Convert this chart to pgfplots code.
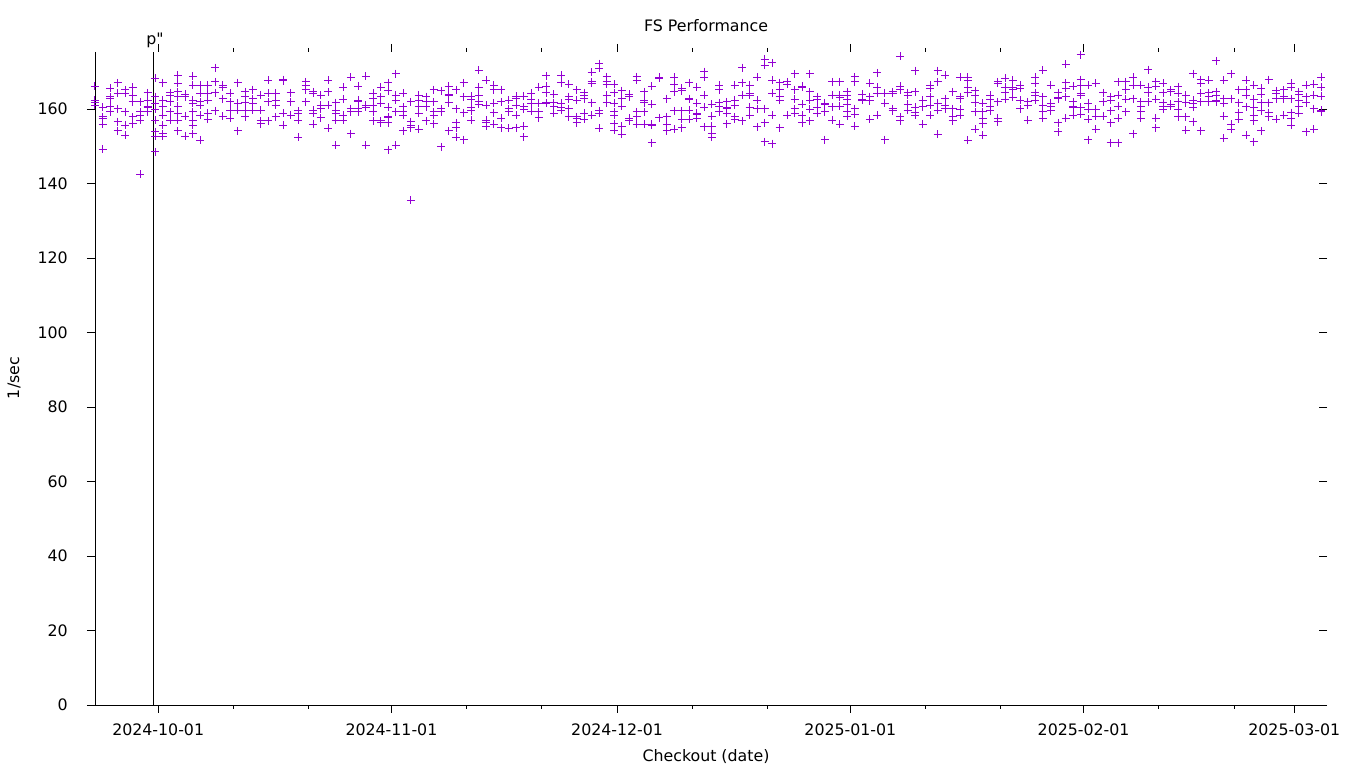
\documentclass[border=0pt]{standalone}
\usepackage{pgfplots}
\pgfplotsset{compat=1.18}
\usepackage{fontspec}
\setmainfont{DejaVu Sans}
\newfontfamily\rawfont{DejaVu Sans}
\definecolor{gpviolet}{HTML}{9400D3}
\begin{document}
\begin{tikzpicture}
\useasboundingbox (-95pt,-63pt) rectangle (1265pt,705pt);
\begin{axis}[
  scale only axis, width=1232pt, height=653pt,
  at={(0pt,0pt)}, anchor=south west,
  xmin=0, xmax=163.75, ymin=0, ymax=175.3,
  axis line style={draw=none},
  tick align=outside,
  major tick length=8pt, minor tick length=4pt,
  every tick/.style={black, line width=0.9pt},
  xtick pos=both, ytick pos=left,
  xtick={8.4,39.4,69.4,100.4,131.4,159.4},
  xticklabels={2024-10-01,2024-11-01,2024-12-01,2025-01-01,2025-02-01,2025-03-01},
  minor xtick={18.4,28.4,49.4,59.4,79.4,89.4,110.4,120.4,141.4,151.4},
  ytick={0,20,40,60,80,100,120,140,160},
  /pgf/number format/assume math mode=true,
  tick label style={font=\fontsize{15.8}{19}\selectfont},
  xticklabel style={anchor=base, yshift=-22pt},
  yticklabel style={anchor=east, inner sep=0pt, xshift=-19pt},
  clip=false,
]
\addplot[only marks, mark=+, mark size=4pt, gpviolet, mark options={line width=1pt}] coordinates {
(0,166.1) (0,162.4) (0,161.7) (0,161.0)
(1,160.4) (1,157.9) (1,157.5) (1,155.9) (1,149.2)
(2,165.5) (2,163.3) (2,162.8) (2,160.8) (2,159.2)
(3,167.0) (3,164.2) (3,160.1) (3,156.6) (3,154.1)
(4,165.1) (4,164.2) (4,159.2) (4,155.7) (4,153.0)
(5,165.8) (5,163.7) (5,161.9) (5,157.9) (5,156.1)
(6,161.9) (6,159.2) (6,158.3) (6,157.0) (6,142.5)
(7,164.3) (7,162.4) (7,160.8) (7,160.4) (7,159.2)
(8,168.2) (8,163.3) (8,161.5) (8,159.9) (8,159.9) (8,157.0) (8,153.9) (8,152.7) (8,148.5)
(9,167.1) (9,162.4) (9,160.6) (9,158.3) (9,155.7) (9,153.4) (9,152.7)
(10,164.3) (10,163.7) (10,161.9) (10,159.2) (10,157.0)
(11,169.1) (11,166.9) (11,164.6) (11,163.3) (11,160.8) (11,158.8) (11,157.0) (11,154.1)
(12,164.0) (12,163.3) (12,158.1) (12,158.1) (12,152.7)
(13,168.8) (13,166.4) (13,162.4) (13,161.5) (13,159.2) (13,157.0) (13,155.7) (13,153.4)
(14,166.4) (14,164.2) (14,161.9) (14,161.0) (14,158.3) (14,158.3) (14,151.6)
(15,166.4) (15,164.2) (15,164.2) (15,162.4) (15,158.8) (15,158.8) (15,157.2)
(16,171.1) (16,167.3) (16,164.3) (16,159.5)
(17,166.4) (17,165.9) (17,162.8) (17,158.1)
(18,164.2) (18,161.9) (18,159.7) (18,157.5)
(19,167.1) (19,161.5) (19,159.7) (19,154.1)
(20,164.6) (20,163.3) (20,161.7) (20,159.7) (20,157.9)
(21,165.2) (21,162.8) (21,161.5) (21,159.7)
(22,163.7) (22,159.7) (22,156.8) (22,156.1)
(23,167.7) (23,164.2) (23,161.9) (23,156.8)
(24,164.2) (24,162.4) (24,161.0) (24,157.9)
(25,167.9) (25,167.6) (25,158.8) (25,155.7)
(26,164.3) (26,161.9) (26,158.3)
(27,159.5) (27,158.8) (27,157.0) (27,152.4)
(28,167.3) (28,166.4) (28,165.1) (28,161.9)
(29,164.6) (29,164.2) (29,159.7) (29,158.8) (29,155.9)
(30,163.7) (30,161.0) (30,160.1) (30,157.7)
(31,167.7) (31,164.6) (31,161.0) (31,154.8)
(32,161.7) (32,159.7) (32,158.8) (32,157.0) (32,150.3)
(33,165.8) (33,162.6) (33,158.3) (33,157.0)
(34,168.5) (34,160.1) (34,159.2) (34,153.4)
(35,166.1) (35,162.4) (35,161.9) (35,160.1) (35,159.2)
(36,168.8) (36,161.0) (36,160.4) (36,150.3)
(37,164.2) (37,162.8) (37,161.0) (37,159.2) (37,156.8)
(38,165.9) (38,163.3) (38,161.5) (38,156.8) (38,156.3)
(39,167.1) (39,164.9) (39,160.4) (39,157.9) (39,157.6) (39,156.3) (39,149.1)
(40,169.5) (40,163.7) (40,162.4) (40,159.2) (40,150.3)
(41,164.2) (41,160.6) (41,159.2) (41,158.3) (41,154.1)
(42,161.9) (42,156.6) (42,155.7) (42,155.0) (42,135.5)
(43,163.7) (43,162.4) (43,160.6) (43,158.8) (43,154.5)
(44,163.3) (44,161.9) (44,160.6) (44,156.8)
(45,165.2) (45,161.9) (45,159.2) (45,158.3) (45,156.1)
(46,164.9) (46,160.1) (46,159.2) (46,149.8)
(47,166.1) (47,164.0) (47,163.7) (47,161.7) (47,154.1)
(48,165.2) (48,160.1) (48,156.3) (48,155.0) (48,152.4)
(49,167.0) (49,163.3) (49,159.0) (49,151.8)
(50,163.4) (50,162.6) (50,160.4) (50,159.5) (50,157.0)
(51,170.4) (51,165.8) (51,163.7) (51,161.9) (51,161.3)
(52,167.7) (52,161.0) (52,157.0) (52,156.3) (52,155.4)
(53,166.4) (53,165.2) (53,161.5) (53,159.0) (53,155.9)
(54,165.2) (54,161.9) (54,157.5) (54,155.0)
(55,162.4) (55,160.1) (55,159.2) (55,154.8)
(56,163.4) (56,162.8) (56,161.0) (56,158.3) (56,155.0)
(57,163.4) (57,160.6) (57,159.9) (57,155.4) (57,152.5)
(58,164.2) (58,162.6) (58,161.5) (58,159.4)
(59,165.9) (59,161.5) (59,159.2) (59,157.6)
(60,168.9) (60,166.1) (60,164.3) (60,161.7) (60,161.5)
(61,164.0) (61,161.7) (61,160.8) (61,158.8)
(62,169.1) (62,167.0) (62,161.5) (62,160.4) (62,159.7)
(63,166.7) (63,163.3) (63,162.6) (63,160.1) (63,157.9)
(64,165.1) (64,162.4) (64,157.9) (64,157.5) (64,156.3)
(65,164.3) (65,163.7) (65,162.8) (65,158.8) (65,157.2)
(66,169.8) (66,167.3) (66,166.9) (66,161.7) (66,158.3)
(67,172.2) (67,170.9) (67,159.5) (67,158.8) (67,154.8)
(68,168.6) (68,167.3) (68,166.7) (68,163.7) (68,161.7)
(69,166.7) (69,164.3) (69,161.5) (69,159.2) (69,159.2) (69,158.3) (69,156.1) (69,154.3)
(70,164.9) (70,162.8) (70,160.8) (70,155.4) (70,153.2)
(71,164.0) (71,163.3) (71,157.5) (71,156.8)
(72,168.6) (72,167.7) (72,159.2) (72,157.9) (72,155.9)
(73,164.6) (73,162.4) (73,161.7) (73,159.2) (73,155.9)
(74,166.1) (74,161.3) (74,155.9) (74,155.7) (74,150.9)
(75,168.5) (75,168.2) (75,157.7)
(76,162.8) (76,157.9) (76,157.9) (76,155.9) (76,154.1)
(77,168.5) (77,166.7) (77,164.6) (77,159.5) (77,154.5)
(78,165.5) (78,164.9) (78,159.5) (78,157.2) (78,155.0)
(79,167.1) (79,162.8) (79,162.6) (79,159.7) (79,157.2)
(80,165.8) (80,161.5) (80,158.8) (80,158.6) (80,157.5)
(81,170.0) (81,168.5) (81,163.7) (81,160.4) (81,155.2)
(82,161.3) (82,158.1) (82,155.4) (82,153.4) (82,152.4)
(83,166.4) (83,165.2) (83,161.7) (83,160.8) (83,159.2)
(84,161.9) (84,160.4) (84,160.1) (84,158.8) (84,156.1)
(85,166.4) (85,162.4) (85,161.0) (85,157.9) (85,157.2)
(86,171.1) (86,167.1) (86,163.7) (86,156.8) (86,156.8)
(87,166.4) (87,164.2) (87,163.7) (87,160.4) (87,158.3)
(88,168.5) (88,162.4) (88,160.1) (88,155.2)
(89,173.3) (89,171.8) (89,160.1) (89,156.3) (89,151.2)
(90,172.4) (90,167.7) (90,164.2) (90,158.3) (90,150.7)
(91,167.1) (91,165.1) (91,163.3) (91,162.4) (91,155.0)
(92,167.3) (92,166.7) (92,158.3)
(93,169.4) (93,165.2) (93,162.6) (93,160.1) (93,158.8)
(94,166.1) (94,165.8) (94,161.3) (94,158.3) (94,156.3)
(95,169.4) (95,164.6) (95,162.4) (95,159.9) (95,156.8)
(96,163.3) (96,162.6) (96,160.4) (96,158.8)
(97,161.5) (97,161.3) (97,159.2) (97,151.8)
(98,167.3) (98,163.7) (98,160.6) (98,157.0)
(99,167.3) (99,163.7) (99,163.1) (99,160.8) (99,155.9)
(100,164.6) (100,163.7) (100,162.6) (100,161.3) (100,159.2) (100,158.1)
(101,168.6) (101,167.3) (101,160.1) (101,158.6) (101,155.4)
(102,164.0) (102,162.6) (102,162.4)
(103,166.9) (103,163.3) (103,162.2) (103,157.2)
(104,169.7) (104,165.8) (104,164.2) (104,158.3)
(105,164.2) (105,161.5) (105,161.5) (105,151.8)
(106,164.6) (106,164.2) (106,160.1) (106,159.5)
(107,174.2) (107,166.1) (107,165.1) (107,157.9) (107,156.8)
(108,164.3) (108,163.7) (108,161.3) (108,159.7)
(109,170.3) (109,164.6) (109,160.4) (109,159.0) (109,158.3)
(110,162.4) (110,160.6) (110,155.9)
(111,166.4) (111,165.5) (111,163.3) (111,161.0) (111,158.3)
(112,170.3) (112,167.3) (112,161.5) (112,159.7) (112,153.2)
(113,169.1) (113,162.8) (113,161.0) (113,160.1)
(114,164.6) (114,160.1) (114,157.9) (114,156.8)
(115,168.5) (115,163.3) (115,162.8) (115,159.9) (115,158.3)
(116,168.5) (116,167.7) (116,165.8) (116,164.3) (116,151.6)
(117,164.9) (117,163.7) (117,161.7) (117,159.2) (117,154.5)
(118,161.5) (118,159.2) (118,157.5) (118,156.1) (118,153.0)
(119,163.7) (119,162.6) (119,160.6) (119,159.5)
(120,167.3) (120,166.9) (120,161.9) (120,157.5) (120,156.6)
(121,168.2) (121,165.8) (121,164.3) (121,162.6)
(122,167.7) (122,165.9) (122,165.2) (122,163.1)
(123,166.4) (123,165.5) (123,162.4) (123,160.1)
(124,161.9) (124,161.0) (124,157.0) (124,157.0)
(125,168.5) (125,166.9) (125,164.3) (125,163.7) (125,162.4)
(126,170.4) (126,163.3) (126,161.0) (126,159.2) (126,157.5)
(127,166.4) (127,161.5) (127,160.6) (127,159.5)
(128,164.3) (128,163.1) (128,162.8) (128,156.3) (128,153.9)
(129,172.0) (129,167.0) (129,165.5) (129,163.3) (129,157.5)
(130,166.1) (130,161.9) (130,160.6) (130,160.4) (130,158.3)
(131,174.5) (131,167.9) (131,166.4) (131,164.2) (131,163.7) (131,160.4) (131,158.6)
(132,166.4) (132,161.5) (132,159.9) (132,157.2) (132,151.8)
(133,166.9) (133,159.9) (133,158.1) (133,154.5)
(134,164.3) (134,161.9) (134,158.1)
(135,163.3) (135,162.4) (135,159.5) (135,156.3) (135,150.9)
(136,167.3) (136,163.7) (136,160.8) (136,157.5) (136,150.9)
(137,167.3) (137,165.2) (137,162.6) (137,159.2)
(138,168.5) (138,166.4) (138,162.8) (138,153.4)
(139,166.4) (139,161.9) (139,160.8) (139,159.2) (139,157.5)
(140,170.6) (140,165.8) (140,164.3) (140,161.9)
(141,167.3) (141,166.1) (141,162.6) (141,157.5) (141,155.0)
(142,166.9) (142,164.3) (142,161.7) (142,160.8) (142,159.9)
(143,165.1) (143,164.6) (143,161.3) (143,160.8)
(144,166.0) (144,164.2) (144,161.9) (144,159.9) (144,157.9)
(145,163.7) (145,161.7) (145,157.9) (145,154.3)
(146,169.5) (146,162.4) (146,161.5) (146,160.4) (146,156.6)
(147,167.9) (147,166.9) (147,164.2) (147,161.9) (147,154.1)
(148,167.7) (148,164.3) (148,163.3) (148,161.9)
(149,172.9) (149,164.6) (149,163.7) (149,162.4) (149,161.9)
(150,167.7) (150,162.8) (150,161.5) (150,158.1) (150,152.1)
(151,169.4) (151,162.8) (151,155.9) (151,154.5)
(152,165.2) (152,161.7) (152,159.0) (152,157.2)
(153,167.7) (153,165.1) (153,163.7) (153,160.6) (153,153.0)
(154,166.4) (154,162.6) (154,160.4) (154,158.3) (154,156.8) (154,151.2)
(155,165.5) (155,164.0) (155,161.7) (155,159.5) (155,154.1)
(156,167.9) (156,161.7) (156,159.0) (156,157.9)
(157,164.9) (157,164.2) (157,162.8) (157,157.2)
(158,165.1) (158,163.3) (158,162.8) (158,158.3)
(159,166.9) (159,165.9) (159,162.8) (159,159.0) (159,157.5) (159,155.7)
(160,164.6) (160,164.0) (160,162.4) (160,160.6) (160,158.8)
(161,166.4) (161,163.3) (161,161.7) (161,153.9)
(162,166.7) (162,163.7) (162,160.1) (162,154.5)
(163,168.5) (163,165.8) (163,163.4) (163,159.7) (163,159.2)
};
\addplot[black, line width=0.9pt] coordinates {(7.74,0) (7.74,175.3)};
\node[anchor=base, font=\rawfont\fontsize{15.8}{19}\selectfont, yshift=7pt] at (axis cs:7.98,175.3) {p"};
\draw[black, line width=0.9pt] (rel axis cs:0,1) -- (rel axis cs:0,0) -- (rel axis cs:1,0);
\pgfplotsinvokeforeach{0,20,40,60,80,100,120,140,160}{
  \draw[black, line width=0.9pt] (axis cs:163.75,#1) -- ++(-8pt,0pt);
}
\end{axis}
\node[font=\fontsize{15.8}{19}\selectfont] at (611pt,679pt) {FS Performance};
\node[font=\fontsize{15.8}{19}\selectfont] at (611pt,-52pt) {Checkout (date)};
\node[font=\fontsize{15.8}{19}\selectfont, rotate=90] at (-81pt,327pt) {1/sec};
\end{tikzpicture}
\end{document}
